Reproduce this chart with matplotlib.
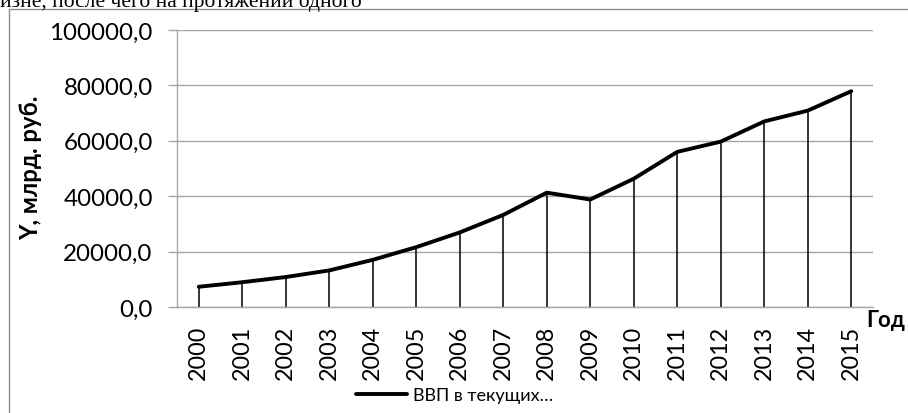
import matplotlib
matplotlib.use("Agg")
import matplotlib.pyplot as plt
from matplotlib.patches import Rectangle
from matplotlib.ticker import FuncFormatter, MultipleLocator

plt.rcParams['font.family'] = ['Lato', 'Open Sans', 'DejaVu Sans']

# ВВП в текущих ценах, млрд. руб.
years = [2000, 2001, 2002, 2003, 2004, 2005, 2006, 2007,
         2008, 2009, 2010, 2011, 2012, 2013, 2014, 2015]
gdp = [7305.6, 8943.6, 10819.2, 13208.2, 17027.2, 21609.8, 26917.2, 33247.5,
       41276.8, 38807.2, 46308.5, 56000.0, 59700.0, 67000.0, 70900.0, 77900.0]
series_label = "ВВП в текущих…"
y_label = "Y, млрд. руб."
x_label = "Год"
body_text = "изне, после чего на протяжении одного"

W, H = 908, 414
fig = plt.figure(figsize=(W / 100, H / 100), dpi=100)

def fx(px):
    return px / W

def fy(py):
    return 1 - py / H

# surrounding document text and chart frame
fig.text(fx(0), fy(6.5), body_text, family='Liberation Serif', fontsize=15.5,
         va='baseline', ha='left', color='black')
fig.patches.append(Rectangle((fx(8.5), fy(500)), 2.0, fy(10) - fy(500),
                             transform=fig.transFigure, fill=False,
                             edgecolor='#8c8c8c', linewidth=1.0))

ax = fig.add_axes([fx(177), fy(308), fx(873) - fx(177), fy(31) - fy(308)])

pos = list(range(len(years)))
grid_c = '#a6a6a6'

ax.vlines(pos, 0, gdp, color='black', linewidth=1.1, zorder=2)
line, = ax.plot(pos, gdp, color='black', linewidth=2.8, zorder=3,
                solid_capstyle='round', solid_joinstyle='round',
                label=series_label)

ax.set_xlim(-0.5, len(years) - 0.5)
ax.set_ylim(0, 100000)
ax.yaxis.set_major_locator(MultipleLocator(20000))
ax.yaxis.set_major_formatter(FuncFormatter(lambda v, p: f"{v:.1f}".replace('.', ',')))
ax.set_xticks(pos)
ax.set_xticklabels([str(y) for y in years], rotation=90, fontsize=16.8)
ax.tick_params(axis='x', length=0, pad=13)
ax.tick_params(axis='y', length=6.5, width=1.0, color=grid_c, pad=11, labelsize=17.4)
ax.grid(axis='y', color=grid_c, linewidth=1.0, zorder=0)
ax.set_axisbelow(True)
for s in ('top', 'right'):
    ax.spines[s].set_visible(False)
for s in ('left', 'bottom'):
    ax.spines[s].set_color(grid_c)
    ax.spines[s].set_linewidth(1.0)

fig.text(fx(31), fy(168), y_label, rotation=90, fontsize=17.2, fontweight='bold',
         ha='center', va='center')
fig.text(fx(866), fy(321), x_label, fontsize=16, fontweight='bold',
         ha='left', va='center')

fig.legend(handles=[line], loc='center left', bbox_to_anchor=(fx(356), fy(396)),
           frameon=False, fontsize=13, borderpad=0, borderaxespad=0,
           handlelength=2.8, handletextpad=0.38)

fig.savefig("out.png", dpi=100, facecolor='white')
